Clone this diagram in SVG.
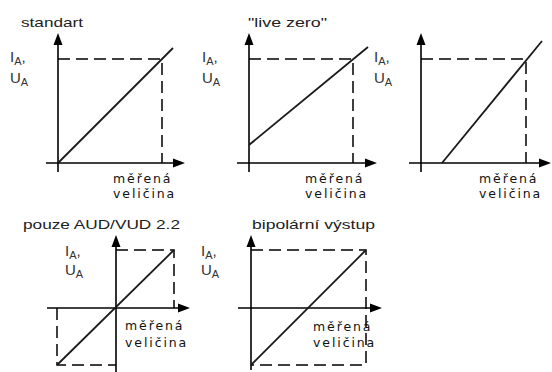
<svg xmlns="http://www.w3.org/2000/svg" width="552" height="372" viewBox="0 0 552 372">
<style>
.ax{stroke:#000;stroke-width:1.6;fill:none}
.ds{stroke:#000;stroke-width:1.5;fill:none;stroke-dasharray:12 6}
.dg{stroke:#1a1a1a;stroke-width:1.8;fill:none}
.ah{fill:#000}
.tt{font-family:"Liberation Sans",Arial,sans-serif;font-size:13px;fill:#222}
.ia{font-family:"Liberation Sans",Arial,sans-serif;font-size:15px;fill:#333}
.sb{font-size:11px}
.mv{font-family:"DejaVu Sans",Verdana,sans-serif;font-size:12.5px;letter-spacing:1.9px;fill:#111}
</style>
<rect width="552" height="372" fill="#fff"/>
<g id="standart">
<text class="tt" x="21" y="27" textLength="62" lengthAdjust="spacingAndGlyphs">standart</text>
<text class="ia" x="10" y="62">I<tspan class="sb" dy="3">A</tspan><tspan dy="-3">,</tspan></text>
<text class="ia" x="10" y="83">U<tspan class="sb" dy="3">A</tspan></text>
<line class="ax" x1="58" y1="172" x2="58" y2="42"/><polygon class="ah" points="58,33 53.5,45 62.5,45"/>
<line class="ax" x1="46" y1="163" x2="176" y2="163"/><polygon class="ah" points="185,163 173,158.5 173,167.5"/>
<polyline class="ds" points="58,59 162,59 162,163"/>
<line class="dg" x1="58" y1="163" x2="173" y2="48"/>
<text class="mv" x="113" y="183">měřená</text>
<text class="mv" x="113" y="198">veličina</text>
</g>
<g id="livezero">
<text class="tt" x="248" y="27" textLength="79" lengthAdjust="spacingAndGlyphs">"live zero"</text>
<text class="ia" x="202" y="62">I<tspan class="sb" dy="3">A</tspan><tspan dy="-3">,</tspan></text>
<text class="ia" x="202" y="83">U<tspan class="sb" dy="3">A</tspan></text>
<line class="ax" x1="249" y1="172" x2="249" y2="42"/><polygon class="ah" points="249,33 244.5,45 253.5,45"/>
<line class="ax" x1="237" y1="163" x2="368" y2="163"/><polygon class="ah" points="377,163 365,158.5 365,167.5"/>
<polyline class="ds" points="249,59 353,59 353,163"/>
<line class="dg" x1="249" y1="145" x2="368" y2="47"/>
<text class="mv" x="305" y="183">měřená</text>
<text class="mv" x="305" y="198">veličina</text>
</g>
<g id="offset">
<text class="ia" x="374" y="62">I<tspan class="sb" dy="3">A</tspan><tspan dy="-3">,</tspan></text>
<text class="ia" x="374" y="83">U<tspan class="sb" dy="3">A</tspan></text>
<line class="ax" x1="421" y1="172" x2="421" y2="42"/><polygon class="ah" points="421,33 416.5,45 425.5,45"/>
<line class="ax" x1="409" y1="163" x2="542" y2="163"/><polygon class="ah" points="551,163 539,158.5 539,167.5"/>
<polyline class="ds" points="421,59 526,59 526,163"/>
<line class="dg" x1="442" y1="163" x2="542" y2="41"/>
<text class="mv" x="479" y="183">měřená</text>
<text class="mv" x="479" y="198">veličina</text>
</g>
<g id="aud">
<text class="tt" x="23" y="229" textLength="157" lengthAdjust="spacingAndGlyphs">pouze AUD/VUD 2.2</text>
<text class="ia" x="65" y="256">I<tspan class="sb" dy="3">A</tspan><tspan dy="-3">,</tspan></text>
<text class="ia" x="65" y="275">U<tspan class="sb" dy="3">A</tspan></text>
<line class="ax" x1="116" y1="372" x2="116" y2="244"/><polygon class="ah" points="116,235 111.5,247 120.5,247"/>
<line class="ax" x1="47" y1="308" x2="181" y2="308"/><polygon class="ah" points="190,308 178,303.5 178,312.5"/>
<polyline class="ds" points="116,250 174,250 174,308"/>
<polyline class="ds" points="57,308 57,365 116,365"/>
<line class="dg" x1="57" y1="365" x2="174" y2="250"/>
<text class="mv" x="125" y="330">měřená</text>
<text class="mv" x="125" y="347">veličina</text>
</g>
<g id="bipolar">
<text class="tt" x="252" y="229" textLength="123" lengthAdjust="spacingAndGlyphs">bipolární výstup</text>
<text class="ia" x="201" y="256">I<tspan class="sb" dy="3">A</tspan><tspan dy="-3">,</tspan></text>
<text class="ia" x="201" y="275">U<tspan class="sb" dy="3">A</tspan></text>
<line class="ax" x1="251" y1="370" x2="251" y2="244"/><polygon class="ah" points="251,235 246.5,247 255.5,247"/>
<line class="ax" x1="238" y1="308" x2="373" y2="308"/><polygon class="ah" points="382,308 370,303.5 370,312.5"/>
<polyline class="ds" points="251,250 366,250 366,365 251,365"/>
<line class="dg" x1="251" y1="365" x2="366" y2="250"/>
<text class="mv" x="313" y="331">měřená</text>
<text class="mv" x="313" y="347">veličina</text>
</g>
</svg>
